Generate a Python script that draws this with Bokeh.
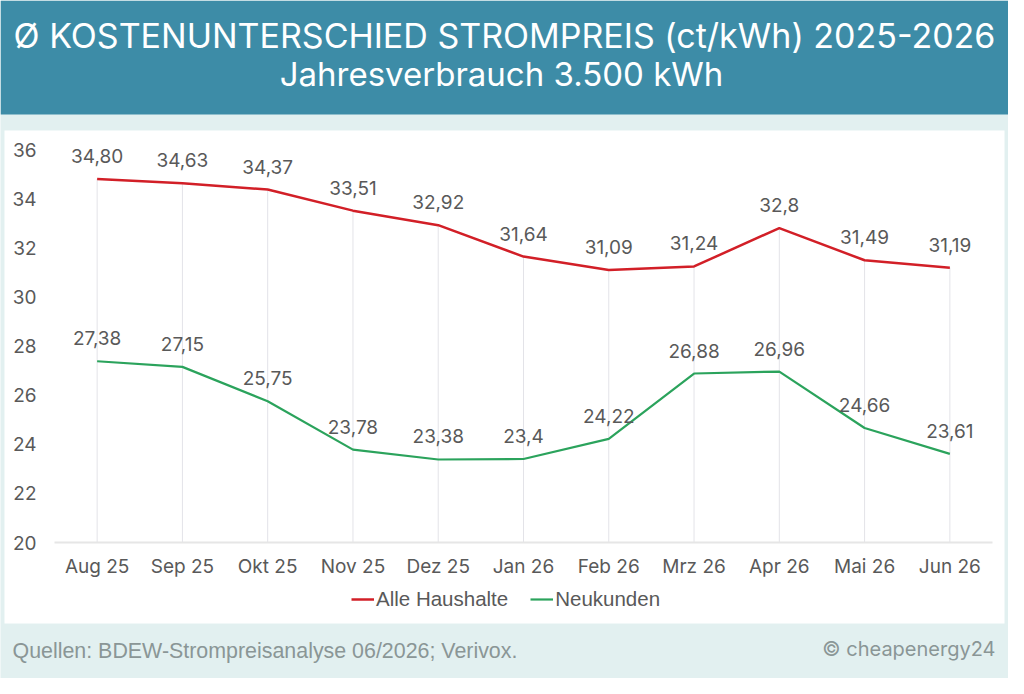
from bokeh.plotting import figure
from bokeh.models import (ColumnDataSource, Range1d, FixedTicker, Legend,
                          LegendItem, BoxAnnotation, Label, LabelSet)
from bokeh.core.properties import value
from bokeh.embed import file_html
from bokeh.resources import INLINE

# ---- data ----
months = ["Aug 25", "Sep 25", "Okt 25", "Nov 25", "Dez 25", "Jan 26",
          "Feb 26", "Mrz 26", "Apr 26", "Mai 26", "Jun 26"]
alle = [34.80, 34.63, 34.37, 33.51, 32.92, 31.64, 31.09, 31.24, 32.8, 31.49, 31.19]
neu = [27.38, 27.15, 25.75, 23.78, 23.38, 23.4, 24.22, 26.88, 26.96, 24.66, 23.61]
alle_labels = ["34,80", "34,63", "34,37", "33,51", "32,92", "31,64",
               "31,09", "31,24", "32,8", "31,49", "31,19"]
neu_labels = ["27,38", "27,15", "25,75", "23,78", "23,38", "23,4",
              "24,22", "26,88", "26,96", "24,66", "23,61"]
y_ticks = [20, 22, 24, 26, 28, 30, 32, 34, 36]
y_min, y_max = 20, 36
series_names = ["Alle Haushalte", "Neukunden"]
title_text = "Ø KOSTENUNTERSCHIED STROMPREIS (ct/kWh) 2025-2026"
subtitle_text = "Jahresverbrauch 3.500 kWh"
source_text = "Quellen: BDEW-Strompreisanalyse 06/2026; Verivox."
copyright_text = "© cheapenergy24"

# ---- styles / layout (canvas pixels) ----
HEADER = "#3d8ca7"
PANEL = "#e2f0f0"
RED = "#d21f27"
GREEN = "#2ba35c"
TXT = "#595959"
FOOT = "#8a9696"
FONT = "Inter"
LEGFONT = "Liberation Sans"

W, H = 1008, 678
PL, PR, PT, PB = 54, 992, 149, 542   # plot area inside the canvas

n = len(months)
xpos = list(range(n))
x_per_px = n / (PR - PL)
y_per_px = (y_max - y_min) / (PB - PT)
x_lo = -0.5 - PL * x_per_px
x_hi = n - 0.5 + (W - PR) * x_per_px
y_lo = y_min - (H - PB) * y_per_px
y_hi = y_max + PT * y_per_px


def dx(cx):
    return x_lo + cx * x_per_px


def dy(cy):
    return y_hi - cy * y_per_px


src = ColumnDataSource(dict(x=xpos, alle=alle, neu=neu,
                            alle_lab=alle_labels, neu_lab=neu_labels,
                            base=[y_min] * n))

p = figure(frame_width=W, frame_height=H, min_border=0,
           x_range=Range1d(x_lo, x_hi), y_range=Range1d(y_lo, y_hi),
           output_backend="svg", toolbar_location=None,
           outline_line_color=None, background_fill_color=PANEL, border_fill_color=PANEL)
p.xgrid.visible = False
p.ygrid.visible = False


def box(l, r, t, b, color):
    p.add_layout(BoxAnnotation(left=dx(l), right=dx(r), top=dy(t), bottom=dy(b),
                               fill_color=color, fill_alpha=1, line_color=None,
                               level="underlay"))


box(0, W, 0, 114, HEADER)
box(4, 1004, 130, 623, "white")

# drop lines
p.segment(x0="x", y0="base", x1="x", y1="alle", source=src,
          line_color="#e3e3e8", line_width=1)

r_alle = p.line(x="x", y="alle", source=src, line_color=RED, line_width=2.5)
r_neu = p.line(x="x", y="neu", source=src, line_color=GREEN, line_width=2.2)

for col, lab in (("alle", "alle_lab"), ("neu", "neu_lab")):
    p.add_layout(LabelSet(x="x", y=col, text=lab, source=src, text_align="center",
                          text_baseline="alphabetic", y_offset=16, text_color=TXT,
                          text_font=value(FONT), text_font_size="19px"))

p.yaxis.fixed_location = -0.5
p.yaxis.bounds = (y_min, y_max)
p.yaxis.ticker = FixedTicker(ticks=y_ticks)
p.yaxis.axis_line_color = None
p.yaxis.major_tick_line_color = None
p.yaxis.minor_tick_line_color = None
p.yaxis.major_tick_out = 0
p.yaxis.major_tick_in = 0
p.yaxis.major_label_standoff = 18
p.yaxis.major_label_text_font = FONT
p.yaxis.major_label_text_font_size = "19px"
p.yaxis.major_label_text_color = TXT

p.xaxis.fixed_location = y_min
p.xaxis.bounds = (-0.5, n - 0.5)
p.xaxis.ticker = FixedTicker(ticks=xpos)
p.xaxis.major_label_overrides = {i: m for i, m in zip(xpos, months)}
p.xaxis.axis_line_color = "#e6e6e6"
p.xaxis.axis_line_width = 2
p.xaxis.major_tick_line_color = None
p.xaxis.minor_tick_line_color = None
p.xaxis.major_tick_out = 0
p.xaxis.major_tick_in = 0
p.xaxis.major_label_standoff = 12
p.xaxis.major_label_text_font = FONT
p.xaxis.major_label_text_font_size = "19px"
p.xaxis.major_label_text_color = TXT


def label(cx, cy, text, align, color, font, size):
    p.add_layout(Label(x=dx(cx), y=dy(cy), text=text,
                       text_align=align, text_baseline="middle", text_color=color,
                       text_font=font, text_font_size=size))


label(504, 35, title_text, "center", "white", FONT, "34px")
label(501, 73, subtitle_text, "center", "white", FONT, "33px")
label(12, 650, source_text, "left", FOOT, LEGFONT, "21.4px")
label(995, 648, copyright_text, "right", FOOT, FONT, "20px")

legend = Legend(items=[LegendItem(label=series_names[0], renderers=[r_alle]),
                       LegendItem(label=series_names[1], renderers=[r_neu])],
                orientation="horizontal", location=(351, H - 611),
                glyph_width=23, glyph_height=20, label_height=20,
                label_standoff=2, spacing=22, padding=0, margin=0,
                border_line_color=None, background_fill_alpha=0,
                label_text_font=LEGFONT, label_text_font_size="20.5px",
                label_text_color=TXT)
p.add_layout(legend, "center")

open("out.html", "w").write(file_html(p, INLINE))
